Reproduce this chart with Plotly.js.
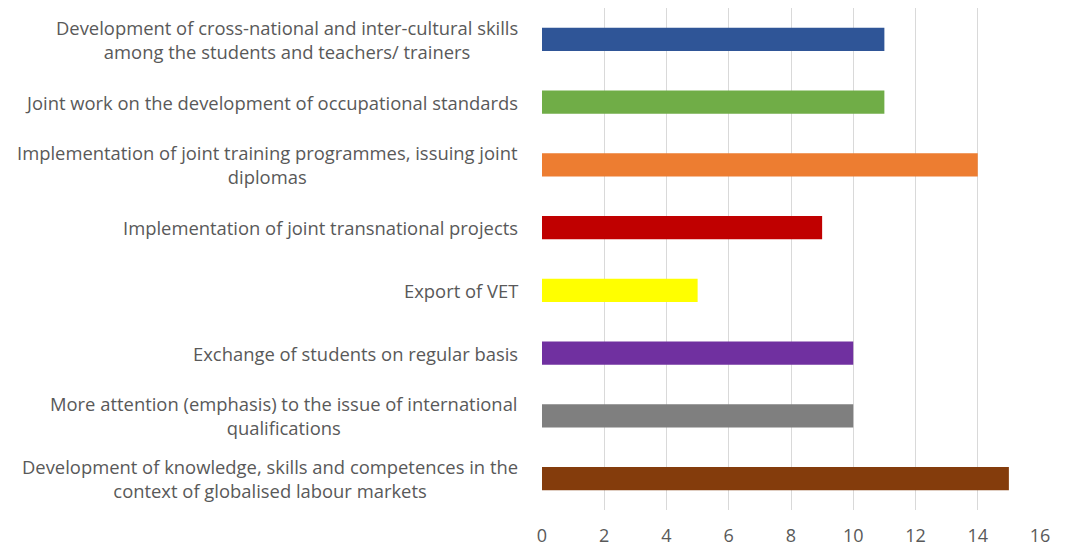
<!DOCTYPE html>
<html>
<head>
<meta charset="utf-8">
<script src="https://cdn.plot.ly/plotly-3.0.1.min.js"></script>
<style>html,body{margin:0;padding:0;background:#fff;}#chart{width:1075px;height:546px;}</style>
</head>
<body>
<div id="chart"></div>
<script>
const categories = [
  "Development of cross-national and inter-cultural skills<br>among the students and teachers/ trainers",
  "Joint work on the development of occupational standards",
  "Implementation of joint training programmes, issuing joint<br>diplomas",
  "Implementation of joint transnational projects",
  "Export of VET",
  "Exchange of students on regular basis",
  "More attention (emphasis) to the issue of international<br>qualifications",
  "Development of knowledge, skills and competences in the<br>context of globalised labour markets"
];
const values = [11, 11, 14, 9, 5, 10, 10, 15];
const colors = ["#2F5597", "#70AD47", "#ED7D31", "#C00000", "#FFFF00", "#7030A0", "#7F7F7F", "#843C0C"];
const xTicks = [0, 2, 4, 6, 8, 10, 12, 14, 16];

const trace = {
  type: "bar",
  orientation: "h",
  x: values,
  y: categories,
  marker: {color: colors},
  hoverinfo: "x+y"
};

const annotations = categories.map(c => ({
  x: 0, xref: "paper", xanchor: "right", xshift: -22,
  y: c, yref: "y", yanchor: "middle",
  text: c, showarrow: false, align: "center",
  font: {family: "Open Sans, sans-serif", size: 18.4, color: "#595959"}
}));

const layout = {
  width: 1075, height: 546,
  margin: {l: 542, r: 35, t: 8, b: 36},
  paper_bgcolor: "#ffffff", plot_bgcolor: "#ffffff",
  bargap: 0.63,
  showlegend: false,
  font: {family: "Open Sans, sans-serif", color: "#595959", size: 18},
  xaxis: {
    range: [0, 16], tickvals: xTicks, ticktext: xTicks.map(String),
    showgrid: true, gridcolor: "#D9D9D9", gridwidth: 1,
    zeroline: false, showline: false, ticks: "",
    ticklabelstandoff: 13,
    tickfont: {size: 18, color: "#595959"}, fixedrange: true
  },
  yaxis: {
    type: "category", autorange: "reversed",
    showticklabels: false, showgrid: false, zeroline: false, showline: false, ticks: "",
    fixedrange: true
  },
  annotations: annotations
};

Plotly.newPlot("chart", [trace], layout, {displayModeBar: false, staticPlot: true});
</script>
</body>
</html>
